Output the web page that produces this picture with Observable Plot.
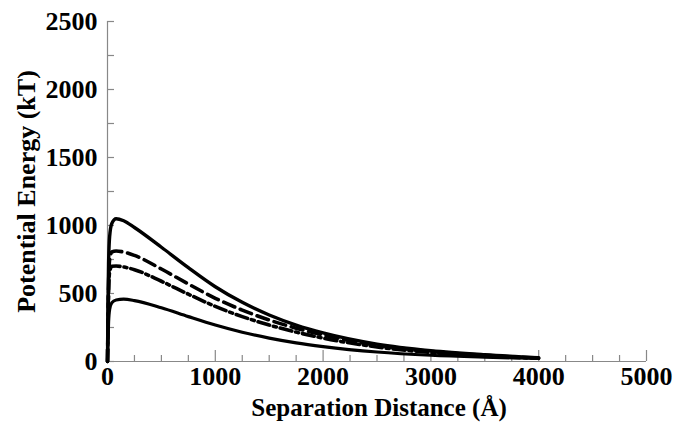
<!DOCTYPE html>
<html>
<head>
<meta charset="utf-8">
<script src="https://cdn.jsdelivr.net/npm/d3@7"></script>
<script src="https://cdn.jsdelivr.net/npm/@observablehq/plot@0.6"></script>
<style>
  html, body { margin: 0; padding: 0; background: #fff; }
</style>
</head>
<body>
<div id="chart"></div>
<script>
// Separation distance (Å)
const distance = [0, 5, 10, 20, 40, 80, 150, 250, 500, 750, 1000, 1250, 1500, 1750, 2000, 2500, 3000, 3500, 4000];
// Potential energy (kT) for four conditions
const seriesSolidTop = [0, 420, 720, 920, 1015, 1050, 1035, 985, 840, 690, 550, 435, 342, 268, 210, 128, 80, 50, 28];
const seriesDashed   = [0, 320, 570, 750, 805, 812, 805, 780, 680, 570, 465, 378, 305, 245, 195, 120, 74, 45, 26];
const seriesDashDot  = [0, 290, 500, 660, 700, 702, 695, 675, 590, 495, 405, 330, 268, 216, 172, 107, 66, 40, 24];
const seriesSolidLow = [0, 160, 290, 385, 432, 452, 458, 448, 395, 330, 268, 215, 172, 137, 110, 70, 46, 32, 22];

const seriesNames = ["solidTop", "dashed", "dashDot", "solidLow"];
const seriesValues = [seriesSolidTop, seriesDashed, seriesDashDot, seriesSolidLow];

const xMajor = [0, 1000, 2000, 3000, 4000, 5000];
const xMinor = d3.range(0, 5001, 250).filter(d => d % 1000 !== 0);
const yTicks = d3.range(0, 2501, 250);
const yLabels = [0, 500, 1000, 1500, 2000, 2500];

const table = seriesNames.flatMap((name, i) =>
  distance.map((x, j) => ({series: name, x, y: seriesValues[i][j]})));

const dashFor = {solidTop: null, dashed: "12,6", dashDot: "12,4,3,4", solidLow: null};
const widthFor = {solidTop: 3.4, dashed: 3.6, dashDot: 3.6, solidLow: 3.2};

const axisGray = "#888";
const fmt = d3.format("d");

const chart = Plot.plot({
  width: 676,
  height: 426,
  marginLeft: 107,
  marginRight: 30,
  marginTop: 21,
  marginBottom: 65,
  style: {
    fontFamily: "'Liberation Serif', 'Times New Roman', serif",
    fontSize: "26px",
    fontWeight: "bold",
    color: "black",
    background: "white"
  },
  x: {domain: [0, 5000]},
  y: {domain: [0, 2500]},
  marks: [
    Plot.axisX(xMajor, {tickSize: 0, tickPadding: 5, label: null, tickFormat: fmt, fontSize: 26, fontWeight: "bold"}),
    Plot.axisY(yLabels, {tickSize: 0, tickPadding: 10, label: null, tickFormat: fmt, fontSize: 26, fontWeight: "bold"}),
    // axis lines
    Plot.ruleY([0], {stroke: axisGray, strokeWidth: 1.2}),
    Plot.ruleX([0], {stroke: axisGray, strokeWidth: 1.2}),
    // inward ticks
    Plot.ruleX(xMajor, {x: d => d, y1: 0, y2: 0, insetTop: -11, stroke: axisGray, strokeWidth: 1.2}),
    Plot.ruleX(xMinor, {x: d => d, y1: 0, y2: 0, insetTop: -6, stroke: axisGray, strokeWidth: 1.2}),
    Plot.ruleY(yTicks, {y: d => d, x1: 0, x2: 0, insetRight: -7, stroke: axisGray, strokeWidth: 1.2}),
    // curves
    ...seriesNames.map(name =>
      Plot.line(table.filter(d => d.series === name), {
        x: "x", y: "y",
        stroke: "black",
        strokeWidth: widthFor[name],
        strokeDasharray: dashFor[name],
        curve: "monotone-x"
      })
    ),
    // titles
    Plot.text(["Potential Energy (kT)"], {frameAnchor: "left", textAnchor: "middle", dx: -81, rotate: -90, fontSize: 26, fontWeight: "bold", fill: "black"}),
    Plot.text(["Separation Distance (Å)"], {frameAnchor: "bottom", textAnchor: "middle", dx: 2, dy: 54, fontSize: 25, fontWeight: "bold", fill: "black"})
  ]
});
document.getElementById("chart").appendChild(chart);
</script>
</body>
</html>
